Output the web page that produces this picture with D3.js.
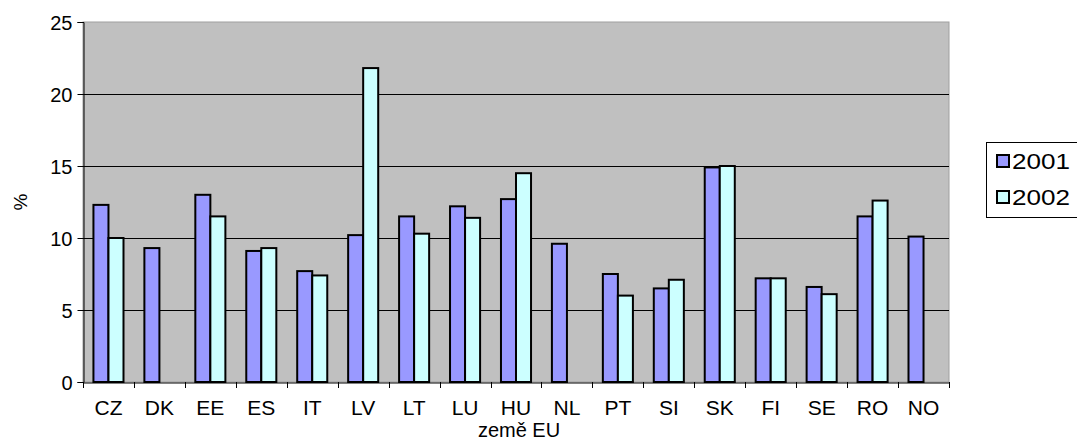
<!DOCTYPE html>
<html>
<head>
<meta charset="utf-8">
<script src="https://cdn.jsdelivr.net/npm/d3@7"></script>
<style>
  body { margin: 0; background: #fff; }
  text { font-family: Arial, "Liberation Sans", sans-serif; fill: #000; }
</style>
</head>
<body>
<svg id="chart" width="1077" height="437"></svg>
<script>
// data
var countries = ['CZ','DK','EE','ES','IT','LV','LT','LU','HU','NL','PT','SI','SK','FI','SE','RO','NO'];
var years = ['2001', '2002'];
var v2001 = [12.3, 9.3, 13.0, 9.1, 7.7, 10.2, 11.5, 12.2, 12.7, 9.6, 7.5, 6.5, 14.9, 7.2, 6.6, 11.5, 10.1];
var v2002 = [10.0, null, 11.5, 9.3, 7.4, 21.8, 10.3, 11.4, 14.5, null, 6.0, 7.1, 15.0, 7.2, 6.1, 12.6, null];
var yTicks = [0, 5, 10, 15, 20, 25];
var colors = ['#9999ff', '#ccffff'];

var svg = d3.select('#chart');
var pLeft = 83, pRight = 949, pTop = 22, pBottom = 382;

var x0 = d3.scaleBand().domain(countries).range([pLeft, pRight]).paddingInner(0.41).paddingOuter(0.205);
var x1 = d3.scaleBand().domain(years).range([0, x0.bandwidth()]);
var y = d3.scaleLinear().domain([0, 25]).range([pBottom, pTop]);

// plot area
svg.append('rect')
  .attr('x', pLeft).attr('y', pTop)
  .attr('width', pRight - pLeft).attr('height', pBottom - pTop)
  .style('fill', '#c0c0c0')
  .style('stroke', '#a0a0a0')
  .style('stroke-width', 1);

// grid lines
svg.selectAll('.grid')
  .data(yTicks.filter((d) => d > 0 && d < 25))
  .enter()
  .append('line')
  .attr('class', 'grid')
  .attr('x1', pLeft).attr('x2', pRight)
  .attr('y1', (d) => Math.round(y(d)) + 0.5)
  .attr('y2', (d) => Math.round(y(d)) + 0.5)
  .style('stroke', '#000')
  .style('stroke-width', 1);

// bars
var rows = countries.map((c, i) => ({c: c, vals: [v2001[i], v2002[i]]}));
var groups = svg.selectAll('.grp')
  .data(rows)
  .enter()
  .append('g')
  .attr('class', 'grp')
  .attr('transform', (d) => 'translate(' + x0(d.c) + ',0)');

groups.selectAll('rect')
  .data((d) => d.vals.map((v, j) => ({year: years[j], v: v, j: j})).filter((e) => e.v != null))
  .enter()
  .append('rect')
  .attr('x', (d) => x1(d.year))
  .attr('y', (d) => y(d.v))
  .attr('width', x1.bandwidth())
  .attr('height', (d) => y(0) - y(d.v))
  .style('fill', (d) => colors[d.j])
  .style('stroke', '#000')
  .style('stroke-width', 2);

// y axis
var yAxis = d3.axisLeft(y).tickValues(yTicks).tickSize(6).tickPadding(5);
var gy = svg.append('g')
  .attr('transform', 'translate(' + (pLeft + 0.5) + ',0)')
  .call(yAxis);
gy.selectAll('text').style('font-size', '20px').attr('dy', '0.35em');

// x axis
var xAxis = d3.axisBottom(x0).tickSize(0).tickPadding(18);
var gx = svg.append('g')
  .attr('transform', 'translate(0,' + (pBottom + 0.5) + ')')
  .call(xAxis);
gx.selectAll('text').style('font-size', '21px');

// category boundary ticks
var step = x0.step();
svg.selectAll('.xtick')
  .data(d3.range(countries.length + 1))
  .enter()
  .append('line')
  .attr('class', 'xtick')
  .attr('x1', (i) => Math.round(pLeft + i * step) + 0.5)
  .attr('x2', (i) => Math.round(pLeft + i * step) + 0.5)
  .attr('y1', pBottom)
  .attr('y2', pBottom + 6)
  .style('stroke', '#000');

[gx, gy].forEach((g) => {
  g.selectAll('path.domain').style('stroke', '#000');
  g.selectAll('.tick line').style('stroke', '#000');
});

// axis titles
svg.append('text')
  .attr('x', 519)
  .attr('y', 437)
  .attr('text-anchor', 'middle')
  .style('font-size', '20px')
  .text('země EU');

svg.append('text')
  .attr('transform', 'translate(27,' + ((pTop + pBottom) / 2) + ') rotate(-90)')
  .attr('text-anchor', 'middle')
  .style('font-size', '19px')
  .text('%');

// legend
var leg = svg.append('g').attr('transform', 'translate(986,142)');
leg.append('rect')
  .attr('x', 0.5).attr('y', 0.5)
  .attr('width', 110).attr('height', 75)
  .style('fill', '#fff')
  .style('stroke', '#000');

var items = leg.selectAll('.item')
  .data(years)
  .enter()
  .append('g')
  .attr('class', 'item')
  .attr('transform', (d, i) => 'translate(11,' + (13 + i * 36) + ')');

items.append('rect')
  .attr('width', 12).attr('height', 12)
  .style('fill', (d, i) => colors[i])
  .style('stroke', '#000')
  .style('stroke-width', 2);

items.append('text')
  .attr('x', 15)
  .attr('y', 14)
  .attr('textLength', 58)
  .attr('lengthAdjust', 'spacingAndGlyphs')
  .style('font-size', '22px')
  .text((d) => d);
</script>
</body>
</html>
